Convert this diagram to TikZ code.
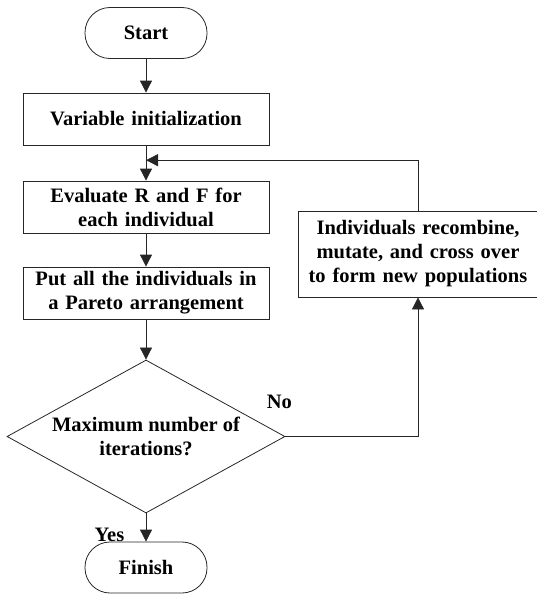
\documentclass[tikz,border=0pt]{standalone}
\usepackage{fontspec}
\setmainfont{Liberation Serif}
\usetikzlibrary{shapes,arrows.meta}
\tikzstyle{terminal} = [draw, rectangle, rounded corners=25pt, minimum width=122pt, minimum height=51pt, text centered]
\tikzstyle{process} = [draw, rectangle, text width=240pt, text centered, minimum width=246pt, minimum height=52pt, inner sep=0pt]
\tikzstyle{decision} = [draw, diamond, aspect=1.8, align=center, minimum width=278pt, minimum height=153pt, inner sep=0pt]
\tikzstyle{line} = [draw, -{Triangle[width=12pt,length=12pt]}]

\begin{document}
\begin{tikzpicture}[node distance=87pt, font=\fontsize{20.5}{24}\selectfont\bfseries, line width=0.8pt, draw=black!85]
    \useasboundingbox (0,0) rectangle (537pt,-594pt);

    % Place nodes
    \node [terminal] at (146pt,-33pt) (start) {Start};
    \node [process, below of=start, node distance=86pt] (init) {Variable initialization};
    \node [process, below of=init, node distance=88pt] (eval) {Evaluate R and F for\\ each individual};
    \node [process, below of=eval, node distance=86pt] (sort) {Put all the individuals in\\ a Pareto arrangement};
    \node [decision, below of=sort, node distance=143.5pt] (decide) {Maximum number of\\ iterations?};
    \node [terminal, below of=decide, node distance=131pt] (finish) {Finish};
    \node [process, right of=eval, node distance=272pt, yshift=-47pt, text width=237pt, minimum width=239pt, minimum height=86pt] (recomb) {Individuals recombine,\\ mutate, and cross over\\ to form new populations};
    \node at ([xshift=-6pt, yshift=35pt]decide.east) (no) {No};

    % Draw edges
    \path (init.south) -- coordinate[pos=0.42] (join) (eval.north);
    \path [line] (start) -- (init);
    \path [line] (init) -- (eval);
    \path [line] (eval) -- (sort);
    \path [line] (sort) -- (decide);
    \path [line] (decide) -- node[left=18pt, pos=0.75] (yes) {Yes} (finish);
    \path [line] (decide.east) -| (recomb.south);
    \path [line] (recomb.north) |- (join);
\end{tikzpicture}
\end{document}
